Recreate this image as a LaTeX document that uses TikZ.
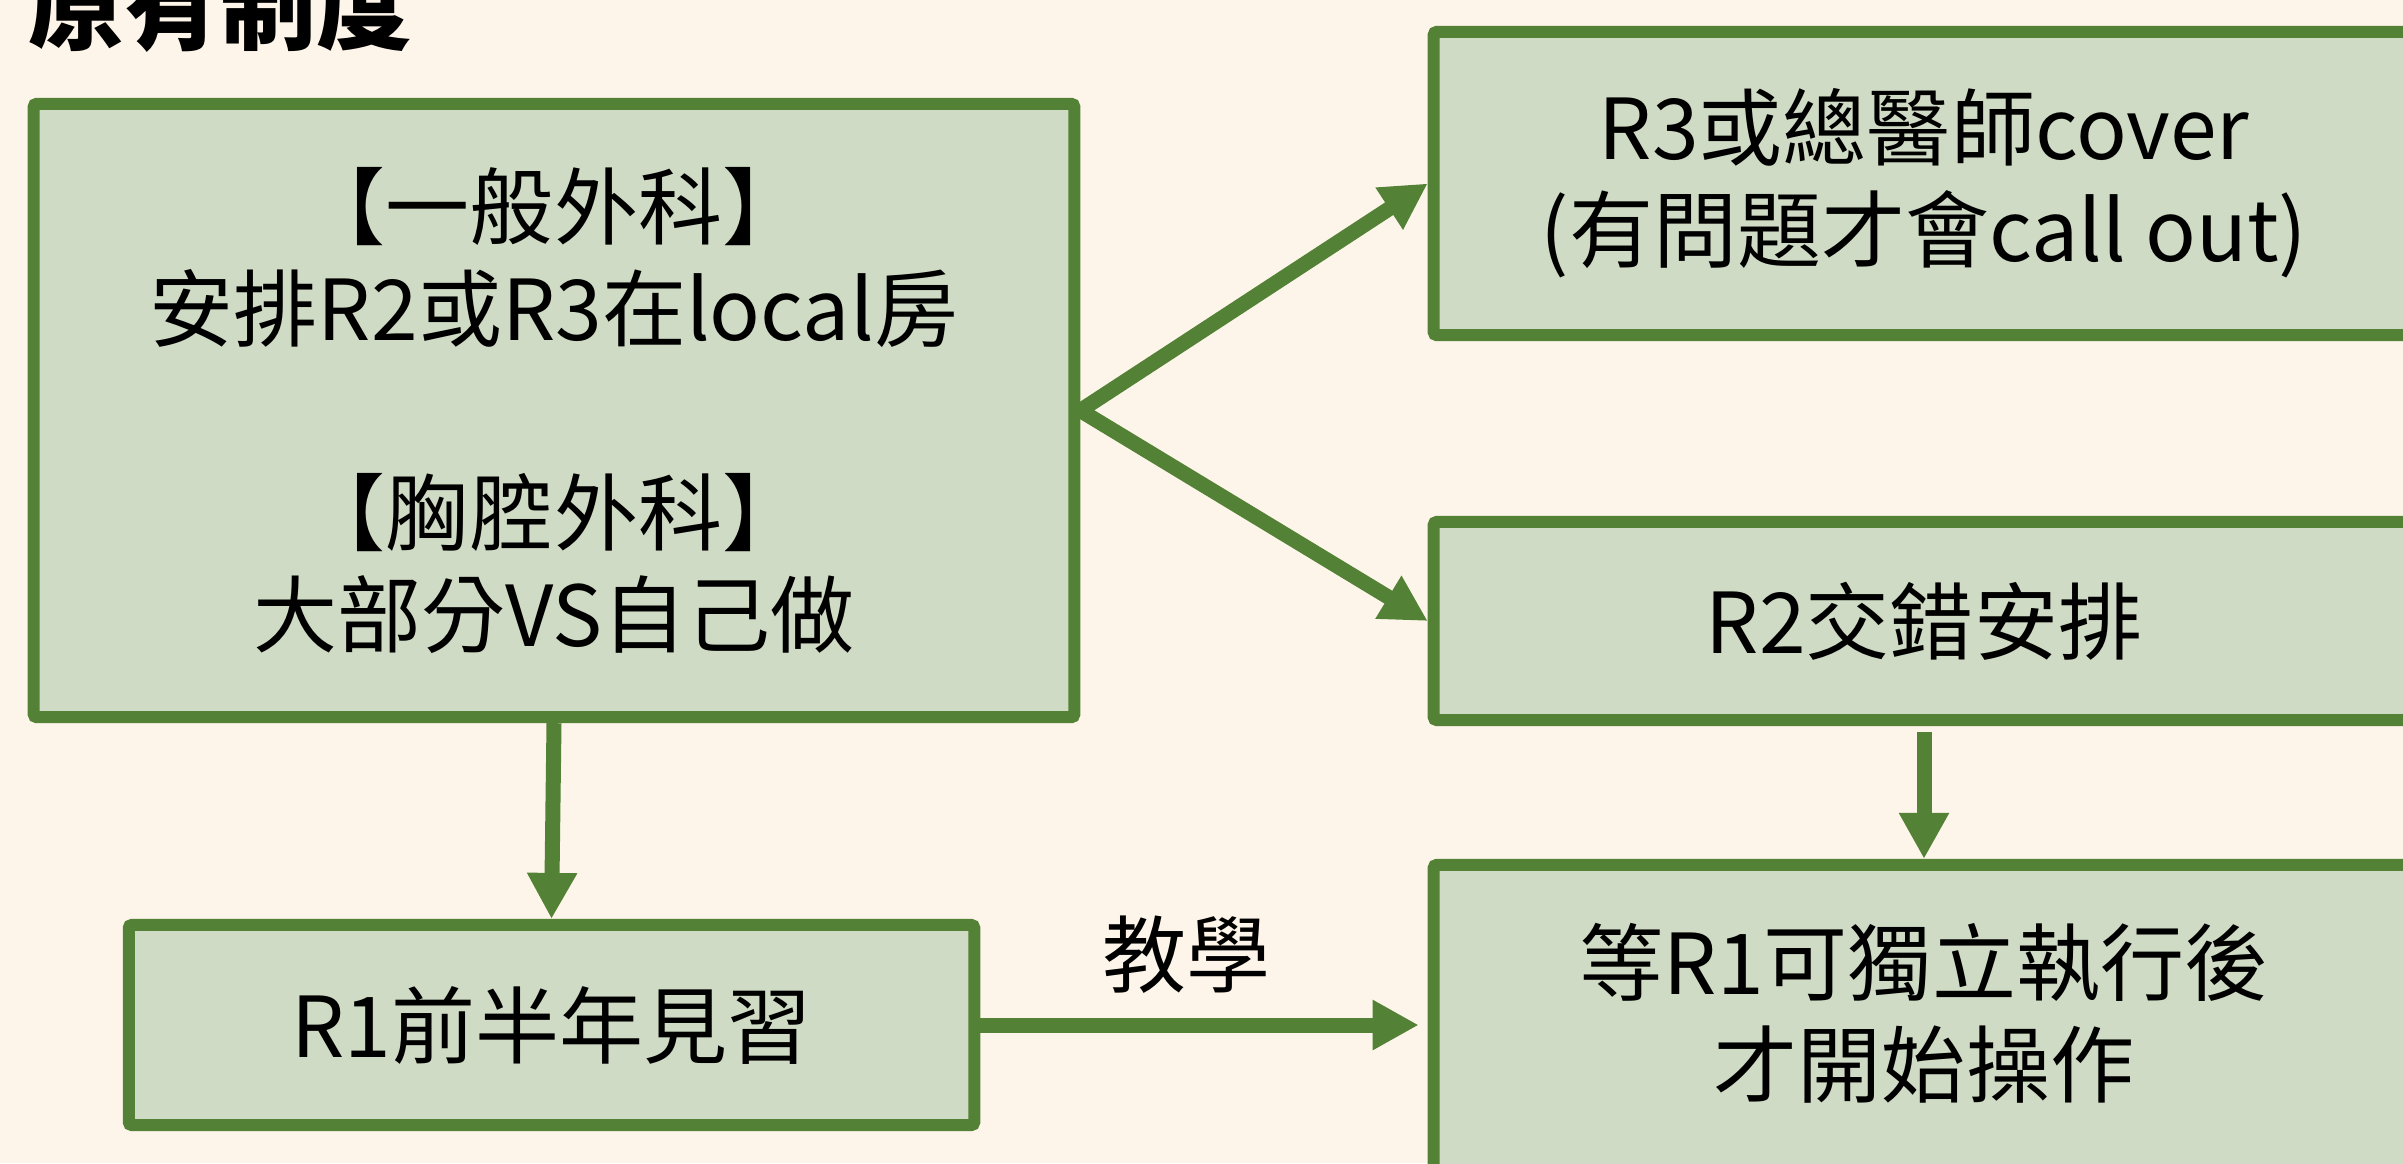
\documentclass[tikz,border=0pt]{standalone}
\usepackage{fontspec}
\newfontfamily\cjk{Noto Sans CJK TC}
\usetikzlibrary{arrows.meta}
\definecolor{bordergreen}{RGB}{83,129,53}
\definecolor{boxfill}{RGB}{207,219,196}
\definecolor{bgcream}{RGB}{253,245,233}
\tikzset{
  box/.style={draw=bordergreen, line width=0.12cm, fill=boxfill, rounded corners=0.03cm,
    align=center, inner sep=0pt, font=\cjk\fontsize{23.9}{29}\selectfont},
  arr/.style={draw=bordergreen, line width=0.15cm, -{Triangle[length=0.46cm,width=0.47cm]}},
  lbl/.style={inner sep=0pt, align=center, font=\cjk\fontsize{23.9}{29}\selectfont},
}
\begin{document}
\begin{tikzpicture}[x=0.01cm, y=-0.01cm]
\useasboundingbox (0,0) rectangle (2403,1163);
\fill[bgcream] (0,0) rectangle (2403,1163);

\node[anchor=base west, inner sep=0pt, font=\cjk\bfseries\fontsize{27.3}{33}\selectfont] (title) at (28,42) {原有制度};

\node[box, minimum width=10.40cm, minimum height=6.13cm] (A) at (554,410.5)
  {【一般外科】\\安排R2或R3在local房\\[1.02cm]【胸腔外科】\\大部分VS自己做};
\node[box, minimum width=9.80cm, minimum height=3.03cm] (B) at (1924,183.5)
  {R3或總醫師cover\\(有問題才會call out)};
\node[box, minimum width=9.80cm, minimum height=1.98cm] (C) at (1924,621)
  {R2交錯安排};
\node[box, minimum width=9.80cm, minimum height=3.40cm] (D) at (1924,1035) {};
\node[lbl] (Dtext) at (1924,1013) {等R1可獨立執行後\\才開始操作};
\node[box, minimum width=8.45cm, minimum height=2.00cm] (R1) at (551.5,1025)
  {R1前半年見習};

\draw[arr] (A.east) -- (B.west);
\draw[arr] (A.east) -- (C.west);
\draw[arr] (A.south) -- (R1.north);
\draw[arr, shorten <=0.06cm] (C.south) -- (D.north);
\draw[arr, shorten >=0.09cm] (R1.east) -- node[lbl, pos=0.46, yshift=0.7cm] (teach) {教學} (R1.east -| D.west);
\end{tikzpicture}
\end{document}
